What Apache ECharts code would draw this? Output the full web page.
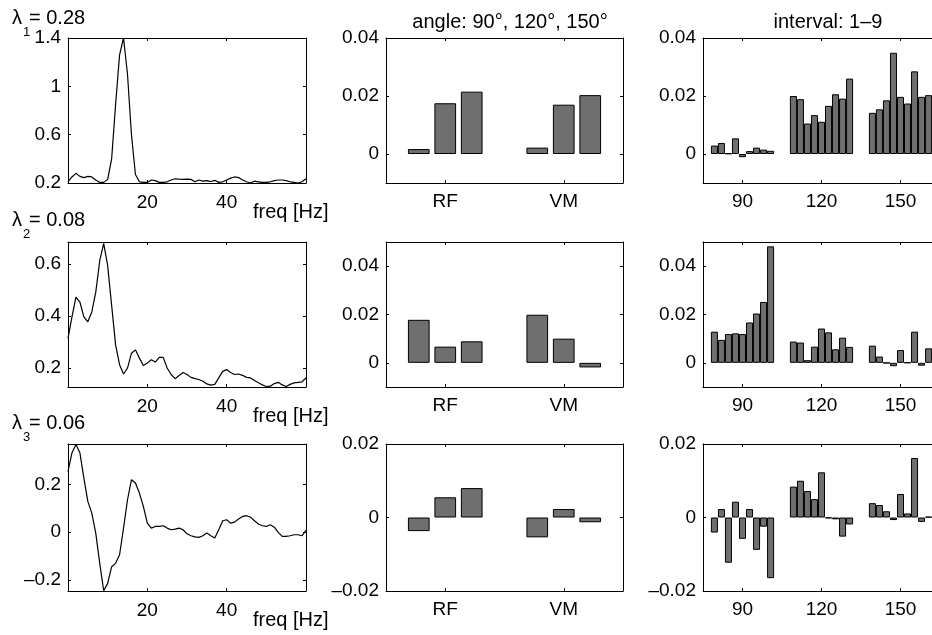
<!DOCTYPE html>
<html><head><meta charset="utf-8">
<script src="https://cdn.jsdelivr.net/npm/echarts@6/dist/echarts.min.js"></script>
<style>html,body{margin:0;padding:0;background:#fff}#c{width:932px;height:635px}</style>
</head><body><div id="c"></div>
<script>
// ---------------- DATA ----------------
const freq = [0,1,2,3,4,5,6,7,8,9,10,11,12,13,14,15,16,17,18,19,20,21,22,23,24,25,26,27,28,29,30,
  31,32,33,34,35,36,37,38,39,40,41,42,43,44,45,46,47,48,49,50,51,52,53,54,55,56,57,58,59,60];
const spec1 = [0.21,0.25,0.28,0.255,0.245,0.255,0.25,0.225,0.205,0.205,
  0.23,0.4,0.85,1.26,1.4,1.1,0.6,0.27,0.21,0.205,
  0.205,0.225,0.22,0.205,0.205,0.21,0.225,0.235,0.232,0.23,
  0.232,0.23,0.21,0.225,0.215,0.22,0.212,0.222,0.205,0.21,
  0.225,0.24,0.25,0.245,0.225,0.21,0.2,0.215,0.21,0.205,
  0.205,0.21,0.22,0.225,0.225,0.22,0.21,0.205,0.2,0.21,0.235];
const spec2 = [0.314,0.397,0.473,0.454,0.397,0.378,0.416,0.492,0.613,0.68,
  0.594,0.441,0.289,0.213,0.177,0.2,0.257,0.27,0.238,0.21,
  0.219,0.232,0.223,0.241,0.241,0.2,0.175,0.159,0.171,0.183,
  0.175,0.164,0.159,0.156,0.149,0.139,0.134,0.137,0.162,0.187,
  0.194,0.183,0.175,0.177,0.172,0.164,0.162,0.152,0.143,0.135,
  0.129,0.13,0.14,0.145,0.135,0.129,0.137,0.143,0.145,0.147,0.162];
const spec3 = [0.255,0.333,0.368,0.333,0.227,0.129,0.08,-0.004,-0.131,-0.246,
  -0.215,-0.145,-0.131,-0.095,0.017,0.136,0.22,0.206,0.164,0.108,
  0.038,0.017,0.024,0.024,0.027,0.017,0.01,0.013,0.017,0.01,
  -0.007,-0.015,-0.02,-0.022,-0.015,-0.004,-0.015,-0.025,0.01,0.048,
  0.052,0.038,0.042,0.055,0.066,0.069,0.063,0.048,0.034,0.027,
  0.024,0.031,0.021,-0.001,-0.018,-0.018,-0.015,-0.011,-0.011,-0.015,0.007];

const lambdaSub = ['1','2','3'];
const lambdaVal = ['0.28','0.08','0.06'];

const muscles = ['RF','VM'];
// per muscle: values for angle 90, 120, 150
const angR1RF = [0.0017,0.0175,0.0215];
const angR1VM = [0.0022,0.017,0.0203];
const angR2RF = [0.0178,0.0067,0.0089];
const angR2VM = [0.0199,0.01,-0.0019];
const angR3RF = [-0.0037,0.0055,0.008];
const angR3VM = [-0.0054,0.0023,-0.0013];

const angleGroups = ['90','120','150'];
// per angle group: values for interval 1..9
const intR1g90  = [0.0029,0.0038,0.0002,0.0054,-0.0011,0.001,0.0022,0.0015,0.0011];
const intR1g120 = [0.02,0.0189,0.0105,0.0134,0.0111,0.0166,0.0206,0.0191,0.026];
const intR1g150 = [0.0142,0.0154,0.0185,0.0349,0.0197,0.0174,0.0285,0.0197,0.0203];
const intR2g90  = [0.0129,0.0095,0.0119,0.0122,0.0119,0.0167,0.0204,0.0252,0.0482];
const intR2g120 = [0.0088,0.0084,0.0011,0.0067,0.0142,0.0126,0.0056,0.0104,0.0066];
const intR2g150 = [0.0071,0.0026,-0.0001,-0.0014,0.0053,0.0001,0.0129,-0.0012,0.006];
const intR3g90  = [-0.0041,0.0023,-0.0123,0.0043,-0.0058,0.0023,-0.0088,-0.0025,-0.0165];
const intR3g120 = [0.0084,0.01,0.0072,0.005,0.0123,-0.0002,-0.0005,-0.0052,-0.0019];
const intR3g150 = [0.0039,0.0034,0.0017,-0.0007,0.0064,0.0011,0.0162,-0.0012,0.0002];

const specTicksX = [20,40];
const specRangeX = [0,60];
const specTicksY = [[0.2,0.6,1,1.4],[0.2,0.4,0.6],[-0.2,0,0.2]];
const specRangeY = [[0.2,1.4],[0.127,0.685],[-0.247,0.37]];
const barTicksY = [[0,0.02,0.04],[0,0.02,0.04],[-0.02,0,0.02]];
const barRangeY = [[-0.01,0.04],[-0.01,0.05],[-0.02,0.02]];

// ---------------- LAYOUT / STYLE ----------------
const FONT = "'Liberation Sans', Arial, Helvetica, sans-serif";
const colLeft = [68,386,703], colW = [238,237,237];
const rowTop = [38,242,444], rowH = [145,145,147];
const BAR_FILL = '#6f6f6f';

function fmt(v){ const s = String(+v.toFixed(6)); return s.replace('-', '\u2013'); }

const grids=[], xAxes=[], yAxes=[], series=[];
const lineStyleAxis = {show:true, onZero:false, lineStyle:{color:'#000', width:1}};
function tick(custom){ const t={show:true, inside:true, length:3, lineStyle:{color:'#000', width:1}}; if(custom) t.customValues=custom; return t; }
function label(show, custom, margin){ const l={show:show, color:'#000', fontSize:19, fontFamily:FONT, margin:margin, hideOverlap:false}; if(custom) l.customValues=custom; return l; }

function addPanel(r,c,xType,xData,xRange,xTicks,yRange,yTicks){
  const gi = grids.length;
  grids.push({left:colLeft[c], top:rowTop[r], width:colW[c], height:rowH[r], containLabel:false, outerBoundsMode:'none'});
  const xb = {gridIndex:gi, position:'bottom', axisLine:lineStyleAxis, splitLine:{show:false}};
  if(xType==='value'){
    Object.assign(xb,{type:'value', min:xRange[0], max:xRange[1], axisTick:tick(xTicks), axisLabel:label(true,xTicks,10)});
  } else {
    Object.assign(xb,{type:'category', data:xData, boundaryGap:true, axisTick:Object.assign(tick(),{alignWithLabel:true}), axisLabel:label(true,null,9)});
  }
  const xt = JSON.parse(JSON.stringify(xb)); xt.position='top'; xt.axisLabel.show=false;
  if(xType==='value'){ xb.axisLabel.formatter=fmt; }
  const yl = {gridIndex:gi, type:'value', position:'left', min:yRange[0], max:yRange[1],
    axisLine:lineStyleAxis, splitLine:{show:false}, axisTick:tick(yTicks), axisLabel:Object.assign(label(true,yTicks,7),{formatter:fmt})};
  const yr = {gridIndex:gi, type:'value', position:'right', min:yRange[0], max:yRange[1],
    axisLine:lineStyleAxis, splitLine:{show:false}, axisTick:tick(yTicks), axisLabel:{show:false}};
  const xi = xAxes.length; xAxes.push(xb, xt);
  const yi = yAxes.length; yAxes.push(yl, yr);
  return {xi, yi};
}

// left column: spectra
[spec1,spec2,spec3].forEach((s,r)=>{
  const a = addPanel(r,0,'value',null,specRangeX,specTicksX,specRangeY[r],specTicksY[r]);
  series.push({type:'line', xAxisIndex:a.xi, yAxisIndex:a.yi, showSymbol:false, symbol:'none',
    lineStyle:{color:'#000', width:1.2}, clip:true, silent:true,
    data: freq.map((f,i)=>[f,s[i]])});
});

// middle column: angle bars (3 series, one per angle)
[[angR1RF,angR1VM],[angR2RF,angR2VM],[angR3RF,angR3VM]].forEach((rowData,r)=>{
  const a = addPanel(r,1,'category',muscles,null,null,barRangeY[r],barTicksY[r]);
  for(let k=0;k<3;k++){
    series.push({type:'bar', xAxisIndex:a.xi, yAxisIndex:a.yi, silent:true,
      barCategoryGap:'37%', barGap:'22%',
      itemStyle:{color:BAR_FILL, borderColor:'#000', borderWidth:1},
      data: rowData.map(m=>m[k])});
  }
});

// right column: interval bars (9 series, one per interval)
[[intR1g90,intR1g120,intR1g150],[intR2g90,intR2g120,intR2g150],[intR3g90,intR3g120,intR3g150]].forEach((rowData,r)=>{
  const a = addPanel(r,2,'category',angleGroups,null,null,barRangeY[r],barTicksY[r]);
  for(let k=0;k<9;k++){
    series.push({type:'bar', xAxisIndex:a.xi, yAxisIndex:a.yi, silent:true,
      barCategoryGap:'20%', barGap:'0%',
      itemStyle:{color:BAR_FILL, borderColor:'#000', borderWidth:1},
      data: rowData.map(g=>g[k])});
  }
});

// texts
const graphic = [];
function txt(t,x,y,size,align){
  graphic.push({type:'text', x:x, y:y, silent:true,
    style:{text:t, fill:'#000', fontSize:size, fontFamily:FONT,
      align:align||'left', textAlign:align||'left', verticalAlign:'middle', textVerticalAlign:'middle'}});
}
const lamMid = [18.5,220,423.5], subMid = [32.5,234,437.5];
for(let r=0;r<3;r++){
  txt('\u03bb',12,lamMid[r],20);
  txt(lambdaSub[r],23,subMid[r],13);
  txt('= '+lambdaVal[r],29,lamMid[r],20);
  txt('freq [Hz]',253,[212,416,620][r],20);
}
txt('angle: 90\u00b0, 120\u00b0, 150\u00b0',510,22,20,'center');
txt('interval: 1\u20139',828,22,20,'center');

const chart = echarts.init(document.getElementById('c'), null, {renderer:'canvas'});
chart.setOption({animation:false, backgroundColor:'#fff', grid:grids, xAxis:xAxes, yAxis:yAxes, series:series, graphic:graphic});
</script></body></html>
